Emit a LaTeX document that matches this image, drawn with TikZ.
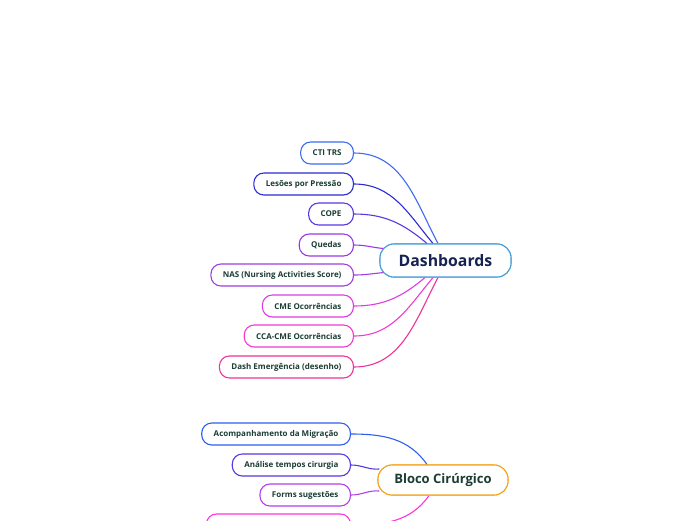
\documentclass[tikz,border=0pt]{standalone}
\usepackage{fontspec}
\setmainfont{Open Sans}
\usetikzlibrary{calc}
\definecolor{txt}{HTML}{1B3D33}
\definecolor{navy}{HTML}{14234F}
\definecolor{cA}{HTML}{3D6BF2}
\definecolor{cB}{HTML}{2B2BD6}
\definecolor{cC}{HTML}{5A36E4}
\definecolor{cD}{HTML}{9A3AE4}
\definecolor{cE}{HTML}{A23CDE}
\definecolor{cF}{HTML}{DC3CE4}
\definecolor{cG}{HTML}{F03AD2}
\definecolor{cH}{HTML}{EE3399}
\definecolor{dashb}{HTML}{4A9FDA}
\definecolor{orng}{HTML}{F5A623}
\definecolor{bA}{HTML}{2F5FF0}
\definecolor{bB}{HTML}{5538E0}
\definecolor{bC}{HTML}{B040E8}
\definecolor{bD}{HTML}{FF33DD}
\tikzset{
  leaf/.style={draw=#1, line width=1.1pt, rounded corners=10pt, fill=white,
    minimum height=22pt, inner xsep=12pt, inner ysep=0pt, anchor=east,
    font=\bfseries\fontsize{8}{9}\selectfont, text=txt},
  hub/.style={draw=#1, line width=1.1pt, rounded corners=14pt, fill=white,
    inner ysep=0pt, anchor=center},
  link/.style={draw=#1, line width=1.1pt}
}
\begin{document}
\begin{tikzpicture}[x=1pt,y=-1pt]
\useasboundingbox (0,0) rectangle (696,520);
\node[hub=dashb, minimum width=131pt, minimum height=33pt, font=\bfseries\fontsize{15.8}{18}\selectfont, text=navy] (dash) at (445.5,260.5) {Dashboards};
\node[hub=orng, minimum width=130pt, minimum height=30pt, font=\bfseries\fontsize{13}{15}\selectfont, text=txt] (bloco) at (443,480) {Bloco Cirúrgico};

\node[leaf=cA] (cti) at (354,153) {CTI TRS};
\node[leaf=cB] (les) at (354,184) {Lesões por Pressão};
\node[leaf=cC] (cope) at (354,214) {COPE};
\node[leaf=cD] (qued) at (354,245) {Quedas};
\node[leaf=cE] (nas) at (354,275) {NAS (Nursing Activities Score)};
\node[leaf=cF] (cme) at (354,306) {CME Ocorrências};
\node[leaf=cG] (cca) at (354,336) {CCA-CME Ocorrências};
\node[leaf=cH] (demg) at (354,367) {Dash Emergência (desenho)};

\node[leaf=bA] (acomp) at (351,434) {Acompanhamento da Migração};
\node[leaf=bB] (anal) at (351,465) {Análise tempos cirurgia};
\node[leaf=bC] (forms) at (351,495) {Forms sugestões};
\node[leaf=bD, minimum width=144pt] (fourth) at (351,525) {};

\draw[link=cA] (cti.east) to[out=0,in=118] ($(dash.north)+(-7.5,0)$);
\draw[link=cB] (les.east) to[out=0,in=130] ($(dash.north)+(-12.5,0)$);
\draw[link=cC] (cope.east) to[out=0,in=140] ($(dash.north)+(-18.5,0)$);
\draw[link=cD] (qued.east) to[out=0,in=175] ($(dash.west)+(4,-12)$);
\draw[link=cE] (nas.east) to[out=0,in=185] ($(dash.west)+(5,12)$);
\draw[link=cF] (cme.east) to[out=0,in=220] ($(dash.south)+(-20.5,0)$);
\draw[link=cG] (cca.east) to[out=0,in=230] ($(dash.south)+(-12.5,0)$);
\draw[link=cH] (demg.east) to[out=0,in=242] ($(dash.south)+(-7.5,0)$);

\draw[link=bA] (acomp.east) to[out=0,in=125] ($(bloco.north)+(-16,0)$);
\draw[link=bB] (anal.east) to[out=0,in=185] ($(bloco.west)+(2,-11)$);
\draw[link=bC] (forms.east) to[out=0,in=175] ($(bloco.west)+(2,11)$);
\draw[link=bD] (fourth.east) to[out=0,in=235] ($(bloco.south)+(-14,0)$);

% hubs redrawn on top of the connectors
\node[hub=dashb, minimum width=131pt, minimum height=33pt, font=\bfseries\fontsize{15.8}{18}\selectfont, text=navy] at (dash.center) {Dashboards};
\node[hub=orng, minimum width=130pt, minimum height=30pt, font=\bfseries\fontsize{13}{15}\selectfont, text=txt] at (bloco.center) {Bloco Cirúrgico};
\end{tikzpicture}
\end{document}
